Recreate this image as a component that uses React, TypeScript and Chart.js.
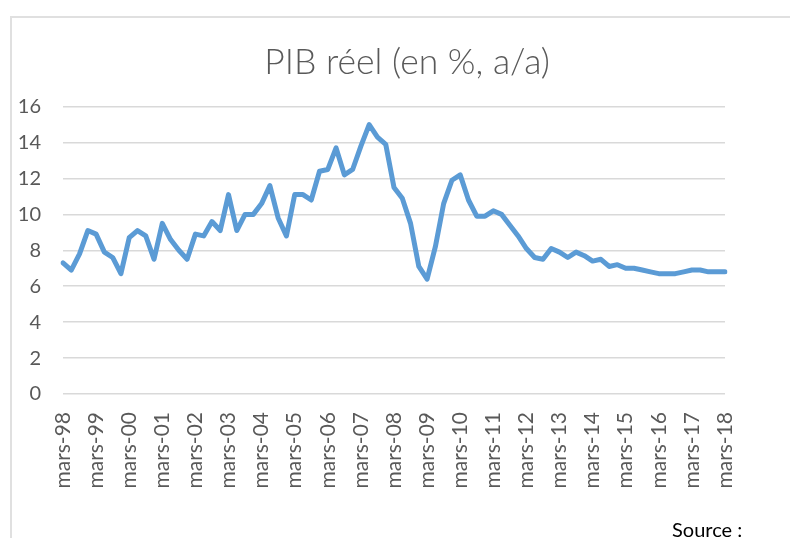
import React, { useEffect, useRef } from "react";
import { Chart, registerables } from "chart.js";

Chart.register(...registerables);

const TITLE = "PIB réel (en %, a/a)";
const SOURCE = "Source :";

// Years shown on the category axis (quarterly data, March 1998 .. March 2018)
const years = ["98", "99", "00", "01", "02", "03", "04", "05", "06", "07", "08", "09", "10", "11", "12", "13", "14", "15", "16", "17", "18"];
const quarterMonths = ["mars", "juin", "sept.", "déc."];

// Real GDP growth, % y/y, quarterly
const gdp = [
  7.3, 6.9, 7.8, 9.1,
  8.9, 7.9, 7.6, 6.7,
  8.7, 9.1, 8.8, 7.5,
  9.5, 8.6, 8.0, 7.5,
  8.9, 8.8, 9.6, 9.1,
  11.1, 9.1, 10.0, 10.0,
  10.6, 11.6, 9.8, 8.8,
  11.1, 11.1, 10.8, 12.4,
  12.5, 13.7, 12.2, 12.5,
  13.8, 15.0, 14.3, 13.9,
  11.5, 10.9, 9.5, 7.1,
  6.4, 8.2, 10.6, 11.9,
  12.2, 10.8, 9.9, 9.9,
  10.2, 10.0, 9.4, 8.8,
  8.1, 7.6, 7.5, 8.1,
  7.9, 7.6, 7.9, 7.7,
  7.4, 7.5, 7.1, 7.2,
  7.0, 7.0, 6.9, 6.8,
  6.7, 6.7, 6.7, 6.8,
  6.9, 6.9, 6.8, 6.8,
  6.8,
];

const categories: string[] = [];
years.forEach((y, yi) => {
  quarterMonths.forEach((m, qi) => {
    if (yi === years.length - 1 && qi > 0) return;
    categories.push(m + "-" + y);
  });
});

const yMin = 0;
const yMax = 16;
const yStep = 2;

// Center the title over the whole chart frame rather than the padded layout box
const titleFramePlugin = {
  id: "titleFrame",
  afterLayout(chart: any) {
    const tb = chart.titleBlock;
    if (tb) {
      tb.left = 10;
      tb.right = 804;
    }
  },
};

export default function App() {
  const ref = useRef<HTMLCanvasElement | null>(null);

  useEffect(() => {
    if (!ref.current) return;
    const chart = new Chart(ref.current, {
      type: "line",
      data: {
        labels: categories,
        datasets: [
          {
            data: gdp,
            borderColor: "#5B9BD5",
            backgroundColor: "#5B9BD5",
            borderWidth: 5,
            pointRadius: 0,
            tension: 0,
            borderJoinStyle: "round",
            borderCapStyle: "round",
          },
        ],
      },
      plugins: [titleFramePlugin],
      options: {
        animation: false,
        responsive: false,
        layout: { padding: { left: 10, right: 65, top: 0, bottom: 0 } },
        plugins: {
          legend: { display: false },
          tooltip: { enabled: false },
          title: {
            display: true,
            text: TITLE,
            color: "#595959",
            font: { family: "Lato", size: 35.5, weight: "300" as any },
            padding: { top: 41, bottom: 23 },
          },
        },
        scales: {
          x: {
            offset: false,
            grid: { display: false, drawTicks: false },
            border: { display: false },
            ticks: {
              autoSkip: false,
              minRotation: 90,
              maxRotation: 90,
              padding: 18,
              color: "#595959",
              font: { family: "Lato", size: 21 },
              callback: function (this: any, val: any, idx: number) {
                return idx % 4 === 0 ? this.getLabelForValue(val) : "";
              },
            },
            afterFit: (scale: any) => {
              scale.height = 144;
            },
          },
          y: {
            min: yMin,
            max: yMax,
            ticks: {
              stepSize: yStep,
              padding: 22,
              color: "#595959",
              font: { family: "Lato", size: 20 },
            },
            grid: { color: "#d9d9d9", lineWidth: 1.5, drawTicks: false },
            border: { display: false },
            afterFit: (scale: any) => {
              scale.width = 53;
            },
          },
        },
      },
    });
    return () => chart.destroy();
  }, []);

  return (
    <div style={{ position: "fixed", left: 0, top: 0, width: 790, height: 538, overflow: "hidden", background: "#fff" }}>
      <div
        style={{
          position: "absolute",
          left: 10,
          top: 16,
          width: 820,
          height: 600,
          border: "2px solid #e0e0e0",
        }}
      />
      <canvas ref={ref} width={790} height={538} style={{ position: "absolute", left: 0, top: 0 }} />
      <span
        style={{
          position: "absolute",
          left: 672,
          top: 517,
          fontFamily: "Lato, sans-serif",
          fontSize: 20,
          color: "#000",
          whiteSpace: "nowrap",
          lineHeight: "24px",
        }}
      >
        {SOURCE}
      </span>
    </div>
  );
}
